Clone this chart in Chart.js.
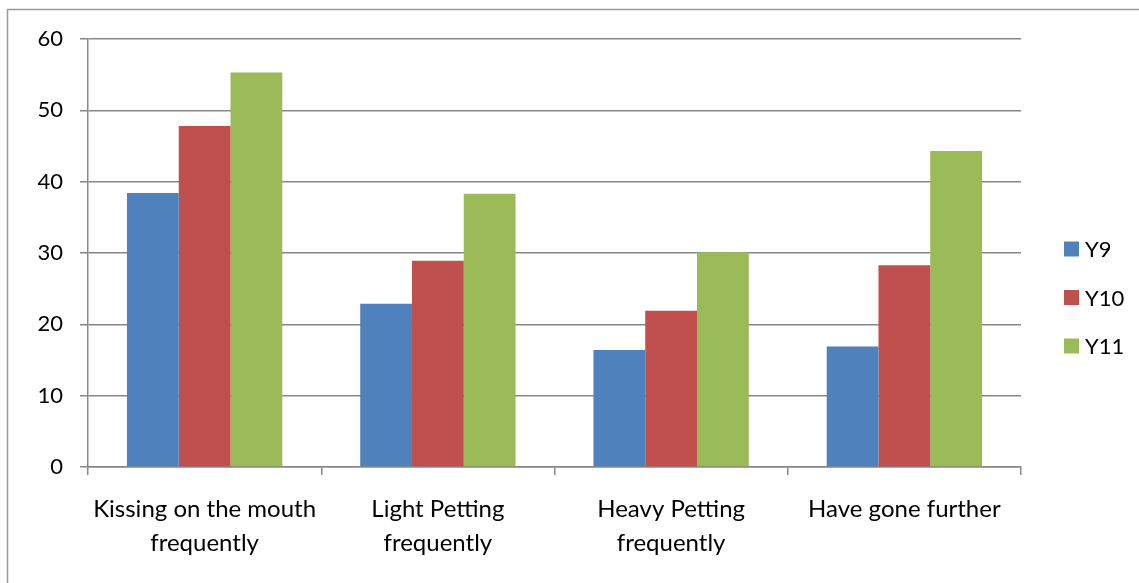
<!DOCTYPE html>
<html>
<head>
<meta charset="utf-8">
<script src="https://cdn.jsdelivr.net/npm/chart.js@4.4.1/dist/chart.umd.min.js"></script>
<style>
  html, body { margin: 0; padding: 0; background: #ffffff; }
  #wrap { width: 1139px; height: 583px; position: relative; }
</style>
</head>
<body>
<div id="wrap"><canvas id="chart" width="1139" height="583"></canvas></div>
<script>
// Survey categories (multi-line labels) and per-year percentages
const categories = [
  ['Kissing on the mouth', 'frequently'],
  ['Light Petting', 'frequently'],
  ['Heavy Petting', 'frequently'],
  ['Have gone further']
];
const seriesNames = ['Y9', 'Y10', 'Y11'];
const y9Values  = [38.4, 22.9, 16.4, 16.9];
const y10Values = [47.8, 28.9, 21.9, 28.3];
const y11Values = [55.3, 38.3, 30.1, 44.3];
const yTicks = [0, 10, 20, 30, 40, 50, 60];

const seriesColors = ['#4F81BD', '#C0504D', '#9BBB59'];
const axisGray = '#878787';
const fontFamily = 'Lato, "Noto Sans", sans-serif';

// Outer frame plus a right-hand legend drawn from the chart's own datasets
const framePlugin = {
  id: 'frame',
  beforeDraw(chart) {
    const ctx = chart.ctx;
    ctx.save();
    ctx.strokeStyle = '#9a9a9a';
    ctx.lineWidth = 1.5;
    ctx.beginPath();
    ctx.moveTo(7.5, chart.height);
    ctx.lineTo(7.5, 9.5);
    ctx.lineTo(chart.width, 9.5);
    ctx.stroke();
    ctx.restore();
  },
  afterDraw(chart) {
    const ctx = chart.ctx;
    const boxX = 1064, boxSize = 15, textX = 1085;
    const firstY = 249, step = 48.5;
    ctx.save();
    ctx.font = '22px ' + fontFamily;
    ctx.textBaseline = 'middle';
    ctx.textAlign = 'left';
    chart.data.datasets.forEach((ds, i) => {
      const cy = firstY + i * step;
      ctx.fillStyle = ds.backgroundColor;
      ctx.fillRect(boxX, cy - boxSize / 2, boxSize, boxSize);
      ctx.fillStyle = '#000000';
      ctx.fillText(ds.label, textX, cy + 1);
    });
    ctx.restore();
  }
};

new Chart(document.getElementById('chart'), {
  type: 'bar',
  data: {
    labels: categories,
    datasets: [
      { label: seriesNames[0], data: y9Values,  backgroundColor: seriesColors[0] },
      { label: seriesNames[1], data: y10Values, backgroundColor: seriesColors[1] },
      { label: seriesNames[2], data: y11Values, backgroundColor: seriesColors[2] }
    ]
  },
  options: {
    responsive: false,
    animation: false,
    layout: { padding: { left: 0, right: 118, top: 39, bottom: 0 } },
    datasets: {
      bar: { barPercentage: 1.0, categoryPercentage: 0.666, borderWidth: 0 }
    },
    plugins: {
      legend: { display: false },
      tooltip: { enabled: false }
    },
    scales: {
      x: {
        offset: true,
        afterFit(scale) { scale.height = 116; },
        grid: {
          offset: true,
          drawOnChartArea: false,
          drawTicks: true,
          tickLength: 8,
          color: axisGray,
          lineWidth: 1.5
        },
        border: { display: true, color: axisGray, width: 1.5 },
        ticks: {
          color: '#000000',
          font: { family: fontFamily, size: 24, lineHeight: 1.39 },
          padding: 18,
          maxRotation: 0,
          autoSkip: false
        }
      },
      y: {
        min: 0,
        max: 60,
        afterFit(scale) { scale.width = 88; },
        afterBuildTicks(scale) { scale.ticks = yTicks.map(v => ({ value: v })); },
        grid: {
          color: axisGray,
          lineWidth: 1.5,
          drawTicks: true,
          tickLength: 8
        },
        border: { display: true, color: axisGray, width: 1.5 },
        ticks: {
          color: '#000000',
          font: { family: fontFamily, size: 22 },
          padding: 17
        }
      }
    }
  },
  plugins: [framePlugin]
});
</script>
</body>
</html>
